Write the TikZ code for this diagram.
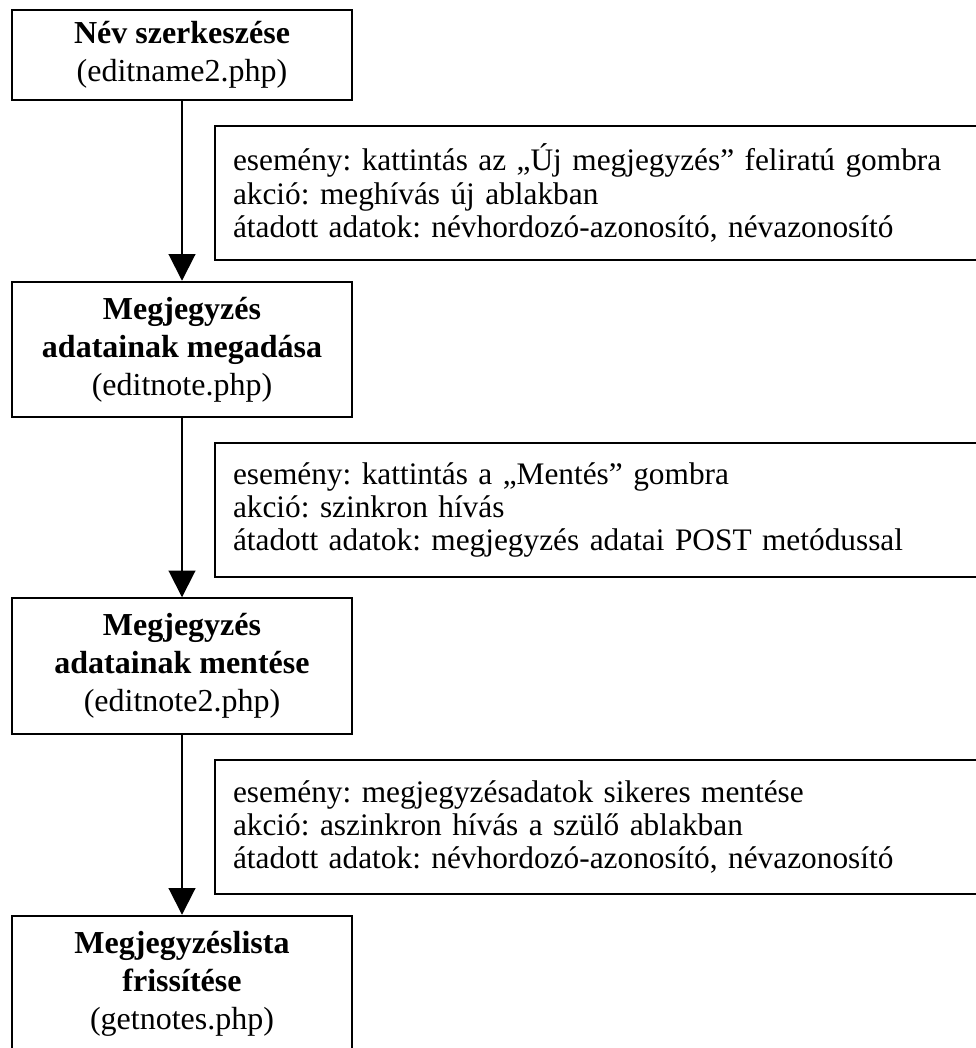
\documentclass[tikz,border=0pt]{standalone}
\usepackage{fontspec}
\setmainfont{Liberation Serif}
\usetikzlibrary{arrows.meta}
\frenchspacing
\begin{document}
\begin{tikzpicture}[x=0.375pt,y=-0.375pt,
  line width=0.75pt,
  page/.style={draw, rectangle, align=center, inner sep=0pt,
    minimum width=127.5pt, minimum height=50.8pt,
    font=\fontsize{12}{14.2}\selectfont},
  note/.style={draw, rectangle, align=left, inner xsep=6.75pt, inner ysep=0pt,
    text width=276.75pt, minimum height=50.6pt,
    font=\fontsize{11.75}{12.4}\selectfont},
  flow/.style={-{Triangle[width=10pt,length=10pt]}}]
\useasboundingbox (0,0) rectangle (976,1048);
\clip (0,0) rectangle (976,1048);

% pages of the note-editing flow
\node[page, minimum height=33.75pt] (b1) at (182,55)
  {\textbf{Név szerkeszése}\\(editname2.php)};
\node[page] (b2) at (182,349.5)
  {\textbf{Megjegyzés}\\\textbf{adatainak megadása}\\(editnote.php)};
\node[page] (b3) at (182,666)
  {\textbf{Megjegyzés}\\\textbf{adatainak mentése}\\(editnote2.php)};
\node[page] (b4) at (182,983.5)
  {\textbf{Megjegyzéslista}\\\textbf{frissítése}\\(getnotes.php)};

% transitions between the pages
\draw[flow] (b1) -- (b2);
\draw[flow] (b2) -- (b3);
\draw[flow] (b3) -- (b4);

% descriptions of the transitions
\node[note] (n1) at (602,193)
  {esemény: kattintás az „Új megjegyzés” feliratú gombra\\
   akció: meghívás új ablakban\\
   átadott adatok: névhordozó-azonosító, névazonosító};
\node[note] (n2) at (602,510)
  {esemény: kattintás a „Mentés” gombra\\
   akció: szinkron hívás\\
   átadott adatok: megjegyzés adatai POST metódussal};
\node[note] (n3) at (602,827)
  {esemény: megjegyzésadatok sikeres mentése\\
   akció: aszinkron hívás a szülő ablakban\\
   átadott adatok: névhordozó-azonosító, névazonosító};
\end{tikzpicture}
\end{document}
